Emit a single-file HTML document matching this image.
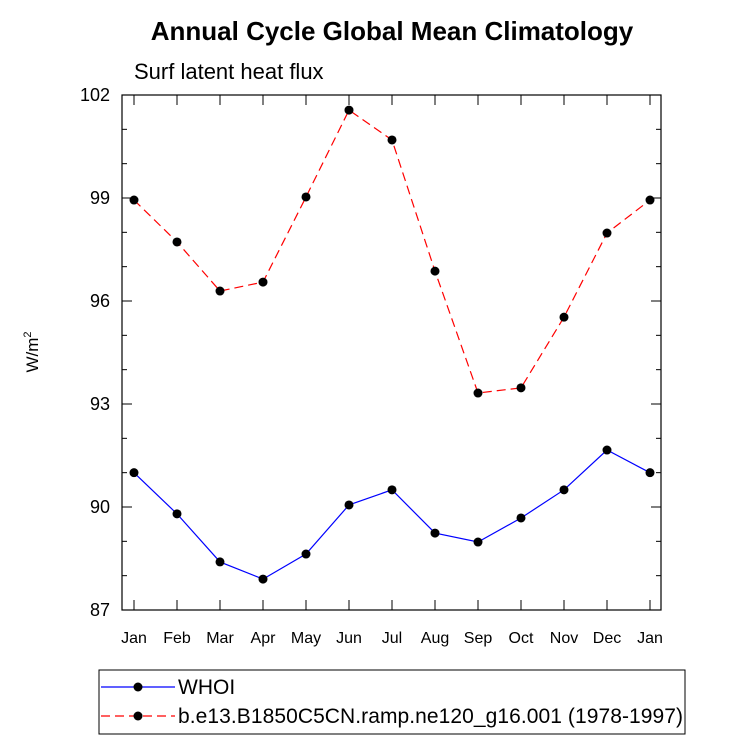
<!DOCTYPE html>
<html><head><meta charset="utf-8"><style>
body{margin:0;background:#fff;}
svg{font-family:"Liberation Sans",Arial,sans-serif;}
</style></head><body>
<svg id="chart" width="733" height="744" viewBox="0 0 733 744" xmlns="http://www.w3.org/2000/svg">
<text x="392" y="40" text-anchor="middle" font-size="26" font-weight="bold">Annual Cycle Global Mean Climatology</text>
<text x="134" y="79" font-size="22">Surf latent heat flux</text>
<text transform="translate(38,352) rotate(-90)" text-anchor="middle" font-size="17">W/m<tspan font-size="11" dy="-7">2</tspan></text>
<rect x="122" y="95" width="539" height="515" fill="none" stroke="#000" stroke-width="1.2"/>
<g id="axes"></g>
<g id="series"></g>
<g>
<rect x="99" y="670" width="586" height="64" fill="none" stroke="#000" stroke-width="1"/>
<g>
<line x1="101" y1="687" x2="175" y2="687" stroke="#00f" stroke-width="1.2"/>
<circle cx="138" cy="687" r="4.5" fill="#000"/>
<text x="178" y="694" font-size="21">WHOI</text></g>
<g>
<line x1="101" y1="716" x2="175" y2="716" stroke="#f00" stroke-width="1.2" stroke-dasharray="9,5"/>
<circle cx="138" cy="716" r="4.5" fill="#000"/>
<text x="178" y="723" font-size="21" textLength="505">b.e13.B1850C5CN.ramp.ne120_g16.001 (1978-1997)</text></g>
</g>
</svg>
<script>
const months=["Jan","Feb","Mar","Apr","May","Jun","Jul","Aug","Sep","Oct","Nov","Dec","Jan"];
const whoi=[91.0,89.8,88.4,87.9,88.63,90.06,90.5,89.24,88.98,89.68,90.5,91.66,91.0];
const model=[98.94,97.72,96.29,96.55,99.03,101.56,100.69,96.87,93.32,93.47,95.53,97.98,98.94];
const yTicks=[87,90,93,96,99,102];
const NS="http://www.w3.org/2000/svg";
const X0=134,DX=43,YT=95,YB=610,YMIN=87,YMAX=102;
const xs=i=>X0+i*DX;
const ys=v=>YB-(v-YMIN)/(YMAX-YMIN)*(YB-YT);
function mk(t,a,p){const e=document.createElementNS(NS,t);for(const k in a)e.setAttribute(k,a[k]);p.appendChild(e);return e;}
const ax=document.getElementById('axes');
months.forEach((m,i)=>{
 const x=xs(i);
 mk('line',{x1:x,y1:YB,x2:x,y2:YB-10,stroke:'#000'},ax);
 mk('line',{x1:x,y1:YT,x2:x,y2:YT+10,stroke:'#000'},ax);
 const t=mk('text',{x:x,y:YB+33,'text-anchor':'middle','font-size':16},ax);
 t.textContent=m;
 
 
});
for(let v=YMIN;v<=YMAX;v+=1){
 const y=ys(v),maj=(v-YMIN)%3===0,l=maj?10:5;
 mk('line',{x1:122,y1:y,x2:122+l,y2:y,stroke:'#000'},ax);
 mk('line',{x1:661,y1:y,x2:661-l,y2:y,stroke:'#000'},ax);
}
yTicks.forEach(v=>{
 const t=mk('text',{x:110,y:ys(v)+6,'text-anchor':'end','font-size':18},ax);
 t.textContent=v;
 
 
});
const sg=document.getElementById('series');
function draw(vals,color,dash,name){
 const g=mk('g',{},sg);
 
 
 const pl=mk('polyline',{points:vals.map((v,i)=>xs(i)+','+ys(v)).join(' '),fill:'none',stroke:color,'stroke-width':1.2},g);
 if(dash)pl.setAttribute('stroke-dasharray',dash);
 
 
 vals.forEach((v,i)=>{
  const c=mk('circle',{cx:xs(i),cy:ys(v),r:4.5,fill:'#000'},g);
  
  
 });
}
draw(whoi,'#00f',null,'whoi-series');
draw(model,'#f00','9,5','model-series');
</script>
</body></html>
